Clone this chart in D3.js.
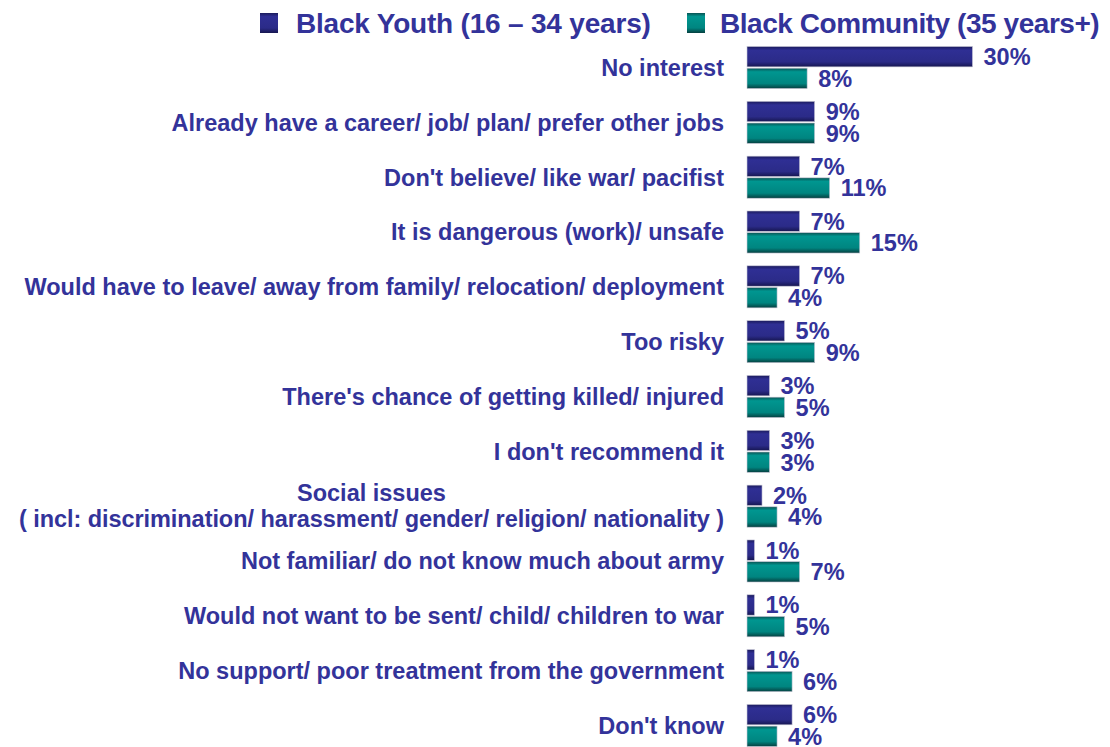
<!DOCTYPE html>
<html>
<head>
<meta charset="utf-8">
<script src="https://cdn.jsdelivr.net/npm/d3@7/dist/d3.min.js"></script>
<style>
  html, body { margin: 0; padding: 0; background: #ffffff; }
  svg { display: block; font-family: "Liberation Sans", Arial, sans-serif; font-weight: bold; }
</style>
</head>
<body>
<svg id="chart" width="1110" height="747"></svg>
<script>
// Reasons given, top to bottom
const categories = [
  ["No interest"],
  ["Already have a career/ job/ plan/ prefer other jobs"],
  ["Don't believe/ like war/ pacifist"],
  ["It is dangerous (work)/ unsafe"],
  ["Would have to leave/ away from family/ relocation/ deployment"],
  ["Too risky"],
  ["There's chance of getting killed/ injured"],
  ["I don't recommend it"],
  ["Social issues", "( incl: discrimination/ harassment/ gender/ religion/ nationality )"],
  ["Not familiar/ do not know much about army"],
  ["Would not want to be sent/ child/ children to war"],
  ["No support/ poor treatment from the government"],
  ["Don't know"]
];

const seriesNames = ["Black Youth (16 – 34 years)", "Black Community (35 years+)"];
const youthValues     = [30, 9, 7, 7, 7, 5, 3, 3, 2, 1, 1, 1, 6];
const communityValues = [8, 9, 11, 15, 4, 9, 5, 3, 4, 7, 5, 6, 4];

const colors = {
  youth: { top: "#1b1b5c", mid: "#2f2f94", low: "#2b2b88", bottom: "#161650" },
  community: { top: "#0a5454", mid: "#009690", low: "#008580", bottom: "#063f3f" }
};
const textColor = "#33339a";
const labelSize = 23.5;

const svg = d3.select("#chart");

const x = d3.scaleLinear().domain([0, 30]).range([747, 972.5]);
const y = d3.scaleBand()
  .domain(d3.range(categories.length))
  .range([46.5, 746.5])
  .paddingInner(0.233)
  .paddingOuter(0);
const sub = d3.scaleBand().domain([0, 1]).range([0, y.bandwidth()]).paddingInner(0.06);

// cylinder-like vertical shading for the bars
const defs = svg.append("defs");
Object.entries(colors).forEach(([key, c]) => {
  const g = defs.append("linearGradient").attr("id", "grad-" + key)
    .attr("x1", 0).attr("y1", 0).attr("x2", 0).attr("y2", 1);
  g.append("stop").attr("offset", "0%").attr("stop-color", c.top);
  g.append("stop").attr("offset", "18%").attr("stop-color", c.mid);
  g.append("stop").attr("offset", "75%").attr("stop-color", c.low);
  g.append("stop").attr("offset", "100%").attr("stop-color", c.bottom);
});

const rows = categories.map((lab, i) => ({
  i, lab, vals: [youthValues[i], communityValues[i]]
}));

const row = svg.append("g").selectAll("g").data(rows).join("g")
  .attr("transform", d => `translate(0,${y(d.i)})`);

// bars
row.selectAll("rect").data(d => d.vals.map((v, s) => ({ v, s }))).join("rect")
  .attr("x", x(0))
  .attr("y", d => sub(d.s))
  .attr("width", d => x(d.v) - x(0))
  .attr("height", sub.bandwidth())
  .attr("fill", d => d.s === 0 ? "url(#grad-youth)" : "url(#grad-community)")
  .attr("stroke", "#c8c8d8")
  .attr("stroke-width", 0.6);

// value labels
row.selectAll("text.val").data(d => d.vals.map((v, s) => ({ v, s }))).join("text")
  .attr("class", "val")
  .attr("x", d => x(d.v) + 11)
  .attr("y", d => sub(d.s) + sub.bandwidth() / 2)
  .attr("dy", "0.36em")
  .attr("fill", textColor)
  .attr("font-size", labelSize)
  .text(d => d.v + "%");

// category labels, right aligned next to the bars
const labelX = 724;
row.each(function(d) {
  const g = d3.select(this);
  const cy = y.bandwidth() / 2;
  if (d.lab.length === 1) {
    g.append("text").attr("x", labelX).attr("y", cy).attr("dy", "0.36em")
      .attr("text-anchor", "end").attr("font-size", labelSize).attr("fill", textColor)
      .text(d.lab[0]);
  } else {
    const second = g.append("text").attr("x", labelX).attr("y", cy + 12).attr("dy", "0.36em")
      .attr("text-anchor", "end").attr("font-size", labelSize).attr("fill", textColor)
      .attr("letter-spacing", "-0.06px")
      .text(d.lab[1]);
    const w = second.node().getComputedTextLength();
    g.append("text").attr("x", labelX - w / 2).attr("y", cy - 14).attr("dy", "0.36em")
      .attr("text-anchor", "middle").attr("font-size", labelSize).attr("fill", textColor)
      .text(d.lab[0]);
  }
});

// legend
const legend = svg.append("g").attr("transform", "translate(260,23)");
const legendItems = [
  { name: seriesNames[0], key: "youth", x: 0, spacing: -0.2 },
  { name: seriesNames[1], key: "community", x: 427, spacing: -0.45 }
];
const li = legend.selectAll("g").data(legendItems).join("g")
  .attr("transform", d => `translate(${d.x},0)`);
li.append("rect").attr("x", 0).attr("y", -10).attr("width", 18).attr("height", 20)
  .attr("fill", d => `url(#grad-${d.key})`);
li.append("text").attr("x", d => d.key === "youth" ? 36 : 33).attr("y", 0).attr("dy", "0.36em")
  .attr("font-size", 28).attr("letter-spacing", d => d.spacing + "px").attr("fill", textColor)
  .text(d => d.name);
</script>
</body>
</html>
